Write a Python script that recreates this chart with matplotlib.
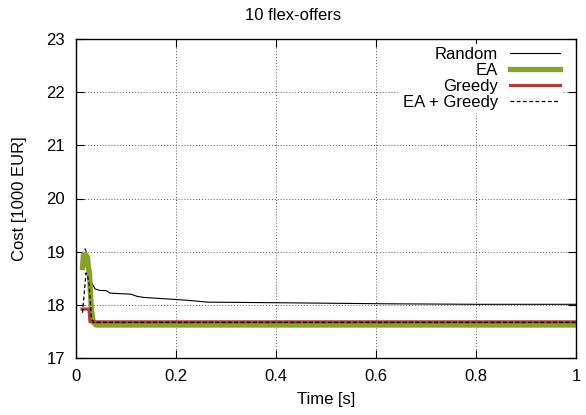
import matplotlib
matplotlib.use("Agg")
import matplotlib.pyplot as plt

plt.rcParams["font.family"] = ["Liberation Sans", "DejaVu Sans"]

# ----------------------------
# DATA
# ----------------------------
random_t = [0.018, 0.020, 0.023, 0.029, 0.038, 0.048, 0.060, 0.068, 0.110, 0.122, 0.135,
            0.200, 0.230, 0.264, 0.400, 0.614, 0.800, 1.0]
random_y = [19.05, 19.02, 18.55, 18.46, 18.30, 18.27, 18.27, 18.22, 18.20, 18.16, 18.14,
            18.10, 18.08, 18.05, 18.04, 18.02, 18.01, 18.01]

ea_t = [0.013, 0.015, 0.017, 0.019, 0.021, 0.023, 0.025, 0.027, 0.029, 0.031,
        0.034, 0.037, 0.040, 1.0]
ea_y = [18.70, 18.95, 18.78, 18.95, 18.75, 18.90, 18.70, 18.60, 18.20, 17.90,
        17.70, 17.65, 17.62, 17.62]

greedy_t = [0.012, 0.026, 0.028, 1.0]
greedy_y = [17.92, 17.92, 17.68, 17.68]

eagreedy_t = [0.013, 0.020, 0.023, 0.026, 0.031, 0.035, 1.0]
eagreedy_y = [17.85, 18.60, 18.55, 18.40, 17.75, 17.67, 17.67]

x_ticks = [0, 0.2, 0.4, 0.6, 0.8, 1]
x_labels = ["0", "0.2", "0.4", "0.6", "0.8", "1"]
y_ticks = [17, 18, 19, 20, 21, 22, 23]

# ----------------------------
# PLOT
# ----------------------------
fig = plt.figure(figsize=(5.86, 4.15), dpi=100)
ax = fig.add_axes([76 / 586, 1 - 358 / 415, 500 / 586, 319 / 415])

ax.plot(random_t, random_y, color="black", lw=0.8, label="Random")
ax.plot(ea_t, ea_y, color="#88a12b", lw=3.8, label="EA")
ax.plot(greedy_t, greedy_y, color="#a8403c", lw=2.3, label="Greedy")
ax.plot(eagreedy_t, eagreedy_y, color="black", lw=0.9, ls=(0, (3, 2)), label="EA + Greedy")

ax.set_xlim(0, 1)
ax.set_ylim(17, 23)
ax.set_xticks(x_ticks)
ax.set_xticklabels(x_labels)
ax.set_yticks(y_ticks)

ax.grid(True, color="#555555", ls=(0, (1, 2)), lw=0.7)
ax.tick_params(direction="in", top=True, right=True, length=6, width=0.8,
               labelsize=12, pad=8)
for s in ax.spines.values():
    s.set_linewidth(1.0)

ax.set_xlabel("Time [s]", fontsize=12, labelpad=6)
ax.set_ylabel("Cost [1000 EUR]", fontsize=12, labelpad=14)
fig.text(0.5, 1 - 15 / 415, "10 flex-offers", ha="center", va="center", fontsize=12)

leg = ax.legend(loc="upper right", bbox_to_anchor=(1 - 13 / 500, 1 - 5 / 319),
                markerfirst=False, frameon=True, fancybox=False, fontsize=12,
                handlelength=3.0, handletextpad=0.7, labelspacing=0.05,
                borderpad=0.2, borderaxespad=0)
leg.get_frame().set_facecolor("white")
leg.get_frame().set_edgecolor("none")
leg.get_frame().set_alpha(1)
for t in leg.get_texts():
    t.set_ha("right")
leg._legend_box.align = "right"

fig.savefig("out.png", dpi=100)
